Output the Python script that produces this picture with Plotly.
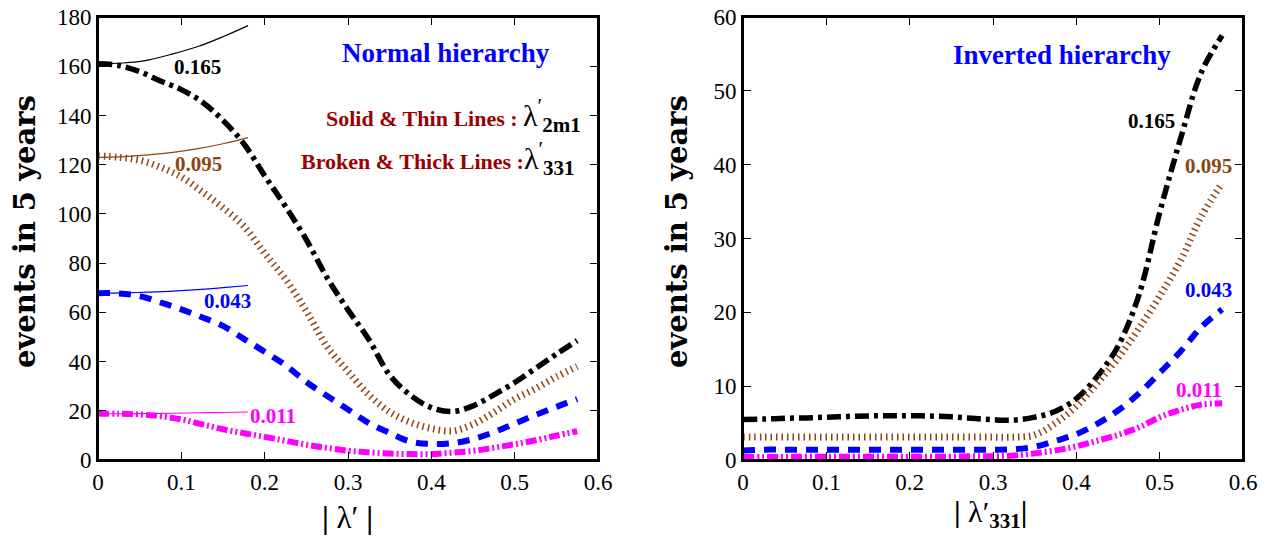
import plotly.graph_objects as go

# ---------------- data ----------------
x_grid = [0, 0.025, 0.05, 0.075, 0.1, 0.125, 0.15, 0.175, 0.2, 0.225, 0.25, 0.275,
          0.3, 0.325, 0.35, 0.375, 0.4, 0.425, 0.45, 0.475, 0.5, 0.525, 0.55, 0.575]

# Normal hierarchy, broken & thick lines (lambda'_331)
nh_165 = [161, 160.3, 157.8, 154, 150.5, 145.5, 138, 128.5, 115.5, 103, 89.5, 74,
          61, 49, 34.5, 26.3, 21.3, 19.7, 22, 26.5, 31.5, 37.2, 43, 48.5]
nh_095 = [123.5, 123, 121.8, 119, 115, 109, 102.5, 95, 84, 73.5, 60.5, 46,
          36, 26.5, 19.5, 15.3, 12.8, 11.8, 14.5, 19.3, 24.8, 29, 33.8, 38]
nh_043 = [67.8, 67.7, 66.6, 64, 61.2, 58, 54.5, 49.2, 44, 38.5, 31.7, 26,
          20.5, 15, 11, 7.5, 6.5, 6.8, 8.5, 11.3, 14.8, 18.3, 21.6, 24.8]
nh_011 = [18.8, 18.8, 18.5, 17.8, 16.5, 14.5, 12.5, 10.9, 9.4, 7.8, 6.2, 4.9,
          3.8, 3.1, 2.6, 2.4, 2.4, 3, 3.7, 5, 6.4, 8, 9.9, 11.7]

# Normal hierarchy, solid & thin lines (lambda'_2m1)
x_thin = [0, 0.03, 0.06, 0.09, 0.12, 0.15, 0.18]
thin_165 = [161, 161.3, 162.5, 165, 168, 172, 176.5]
thin_095 = [123, 123.3, 124, 125, 126.5, 128.5, 131]
thin_043 = [67.8, 67.9, 68.2, 68.6, 69.2, 70, 70.9]
thin_011 = [18.8, 18.8, 18.9, 19.0, 19.2, 19.3, 19.5]

# Inverted hierarchy (lambda'_331)
ih_165 = [5.5, 5.55, 5.65, 5.7, 5.8, 5.9, 5.97, 6.0, 6.0, 5.95, 5.85, 5.65,
          5.45, 5.4, 5.8, 6.6, 8.3, 11.3, 15.4, 22.3, 33.5, 43.5, 52.5, 57.5]
ih_095 = [3.1, 3.1, 3.1, 3.1, 3.1, 3.1, 3.1, 3.1, 3.1, 3.1, 3.1, 3.1,
          3.1, 3.1, 3.4, 5.0, 7.3, 10.4, 13.8, 17.8, 22.2, 27, 33, 37.5]
ih_043 = [1.3, 1.4, 1.4, 1.4, 1.4, 1.4, 1.4, 1.4, 1.4, 1.4, 1.4, 1.4,
          1.4, 1.45, 1.8, 2.6, 3.5, 4.9, 6.7, 9, 11.8, 14.7, 18, 20.4]
ih_011 = [0.4, 0.4, 0.4, 0.45, 0.45, 0.45, 0.45, 0.45, 0.45, 0.45, 0.45, 0.5,
          0.5, 0.6, 0.9, 1.3, 1.85, 2.6, 3.4, 4.4, 5.8, 6.8, 7.5, 7.7]

coupling_labels = ["0.165", "0.095", "0.043", "0.011"]
x_ticks = [0, 0.1, 0.2, 0.3, 0.4, 0.5, 0.6]
x_tick_text = ["0", "0.1", "0.2", "0.3", "0.4", "0.5", "0.6"]

# ---------------- styles ----------------
BLACK = "#000000"
BROWN = "#8B4513"
BLUE = "#0000FF"
MAGENTA = "#FF00FF"
DARKRED = "#990000"
colors = [BLACK, BROWN, BLUE, MAGENTA]
dashes = ["14px,5px,4px,5px", "1.5px,4px", "12px,9px", "11px,3px,2px,3px,2px,3px"]
widths = [5.5, 7, 6, 6]

fig = go.Figure()

for ys, c, d, w in zip([nh_165, nh_095, nh_043, nh_011], colors, dashes, widths):
    fig.add_trace(go.Scatter(x=x_grid, y=ys, mode="lines", xaxis="x", yaxis="y",
                             line=dict(color=c, dash=d, width=w, shape="spline"),
                             showlegend=False, hoverinfo="skip"))
for ys, c in zip([thin_165, thin_095, thin_043, thin_011], colors):
    fig.add_trace(go.Scatter(x=x_thin, y=ys, mode="lines", xaxis="x", yaxis="y",
                             line=dict(color=c, width=1.2, shape="spline"),
                             showlegend=False, hoverinfo="skip"))
for ys, c, d, w in zip([ih_165, ih_095, ih_043, ih_011], colors, dashes, widths):
    fig.add_trace(go.Scatter(x=x_grid, y=ys, mode="lines", xaxis="x2", yaxis="y2",
                             line=dict(color=c, dash=d, width=w, shape="spline"),
                             showlegend=False, hoverinfo="skip"))

SERIF = "Liberation Serif, Times New Roman, serif"
TICKFONT = dict(family=SERIF, size=23, color="black")
axis_common = dict(showline=True, linewidth=2, linecolor="black", mirror="allticks",
                   ticks="inside", ticklen=8, tickwidth=1, tickcolor="black",
                   showgrid=False, zeroline=False, tickfont=TICKFONT, automargin=False)

ydom = [77 / 537, 520 / 537]
fig.update_layout(
    width=1274, height=537,
    margin=dict(l=0, r=0, t=0, b=0, autoexpand=False),
    font=dict(family=SERIF, color="black"),
    paper_bgcolor="white", plot_bgcolor="white",
    xaxis=dict(domain=[98 / 1274, 598 / 1274], range=[0, 0.6], tickvals=x_ticks,
               ticktext=x_tick_text, anchor="y", **axis_common),
    yaxis=dict(domain=ydom, range=[0, 180], dtick=20, anchor="x", **axis_common),
    xaxis2=dict(domain=[743 / 1274, 1243 / 1274], range=[0, 0.6], tickvals=x_ticks,
                ticktext=x_tick_text, anchor="y2", **axis_common),
    yaxis2=dict(domain=ydom, range=[0, 60], dtick=10, anchor="x2", **axis_common),
)

# explicit frames
for xr, yr in [("x domain", "y domain"), ("x2 domain", "y2 domain")]:
    fig.add_shape(type="rect", xref=xr, yref=yr, x0=0, x1=1, y0=0, y1=1,
                  line=dict(color="black", width=2), layer="above")

LBL = dict(family=SERIF, size=21)
ann = []
# Normal hierarchy labels
for (txt, c, xx, yy) in zip(coupling_labels, colors,
                            [0.119, 0.121, 0.155, 0.21], [159.5, 120.3, 64.5, 17.8]):
    ann.append(dict(x=xx, y=yy, xref="x", yref="y", text="<b>%s</b>" % txt,
                    showarrow=False, font=dict(color=c, **LBL)))
# Inverted hierarchy labels
for (txt, c, xx, yy) in zip(coupling_labels, colors,
                            [0.49, 0.559, 0.559, 0.547], [45.9, 39.8, 23.0, 9.5]):
    ann.append(dict(x=xx, y=yy, xref="x2", yref="y2", text="<b>%s</b>" % txt,
                    showarrow=False, font=dict(color=c, **LBL)))

ann.append(dict(x=0.417, y=165.5, xref="x", yref="y", text="<b>Normal hierarchy</b>",
                showarrow=False, font=dict(family=SERIF, size=27, color=BLUE)))
ann.append(dict(x=0.383, y=54.8, xref="x2", yref="y2", text="<b>Inverted hierarchy</b>",
                showarrow=False, font=dict(family=SERIF, size=27, color=BLUE)))

ann.append(dict(x=583 / 1274, y=(537 - 115) / 537, xref="paper", yref="paper",
                xanchor="right", yanchor="middle",
                text="<b>Solid &amp; Thin Lines :</b> <span style='color:black;font-size:30px'>λ<sup>′</sup><sub><b>2m1</b></sub></span>",
                showarrow=False, font=dict(family=SERIF, size=22, color=DARKRED)))
ann.append(dict(x=577 / 1274, y=(537 - 158) / 537, xref="paper", yref="paper",
                xanchor="right", yanchor="middle",
                text="<b>Broken &amp; Thick Lines :</b><span style='color:black;font-size:30px'>λ<sup>′</sup><sub><b>331</b></sub></span>",
                showarrow=False, font=dict(family=SERIF, size=22, color=DARKRED)))

# axis titles
YT = dict(family="DejaVu Serif", size=29, color="black")
ann.append(dict(x=25 / 1274, y=(537 - 232) / 537, xref="paper", yref="paper",
                xanchor="center", yanchor="middle",
                text="<b>events in 5 years</b>", textangle=-90, showarrow=False, font=YT))
ann.append(dict(x=677 / 1274, y=(537 - 232) / 537, xref="paper", yref="paper",
                xanchor="center", yanchor="middle",
                text="<b>events in 5 years</b>", textangle=-90, showarrow=False, font=YT))
XT = dict(family=SERIF, size=31, color="black")
ann.append(dict(x=347 / 1274, y=(537 - 517) / 537, xref="paper", yref="paper",
                xanchor="center", yanchor="middle",
                text="<b>|</b> λ′ <b>|</b>", showarrow=False, font=XT))
ann.append(dict(x=990 / 1274, y=(537 - 514) / 537, xref="paper", yref="paper",
                xanchor="center", yanchor="middle",
                text="<b>|</b> λ′<sub><b>331</b></sub><b>|</b>",
                showarrow=False, font=dict(family=SERIF, size=30, color="black")))

fig.update_layout(annotations=ann)
fig.write_html("out.html", config={"displayModeBar": False},
               post_script="document.body.style.margin='0';document.body.style.padding='0';")
